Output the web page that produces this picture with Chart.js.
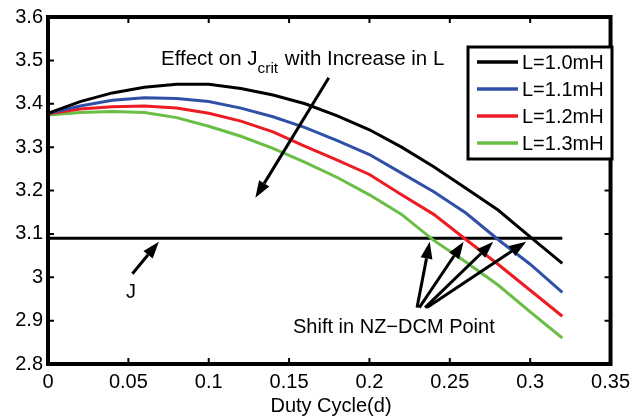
<!DOCTYPE html>
<html>
<head>
<meta charset="utf-8">
<script src="https://cdn.jsdelivr.net/npm/chart.js@4.4.1/dist/chart.umd.min.js"></script>
<style>
  html, body { margin: 0; padding: 0; background: #fff; }
</style>
</head>
<body>
<canvas id="myChart" width="636" height="417"></canvas>
<script>
// duty cycle samples
const duty = [0, 0.02, 0.04, 0.06, 0.08, 0.10, 0.12, 0.14, 0.16, 0.18, 0.20, 0.22, 0.24, 0.26, 0.28, 0.30, 0.32];

// J_crit for each inductance
const jL10 = [3.378, 3.405, 3.425, 3.438, 3.445, 3.445, 3.435, 3.420, 3.400, 3.372, 3.340, 3.300, 3.255, 3.205, 3.155, 3.093, 3.032];
const jL11 = [3.378, 3.395, 3.408, 3.414, 3.412, 3.405, 3.390, 3.370, 3.345, 3.315, 3.283, 3.240, 3.197, 3.148, 3.087, 3.030, 2.965];
const jL12 = [3.377, 3.388, 3.393, 3.395, 3.390, 3.378, 3.360, 3.335, 3.302, 3.270, 3.237, 3.190, 3.145, 3.087, 3.030, 2.970, 2.910];
const jL13 = [3.374, 3.380, 3.382, 3.380, 3.368, 3.348, 3.325, 3.297, 3.265, 3.230, 3.190, 3.145, 3.085, 3.035, 2.982, 2.920, 2.860];

// reference current J
const jRefX = [0, 0.32];
const jRefY = [3.09, 3.09];

const seriesNames = ['L=1.0mH', 'L=1.1mH', 'L=1.2mH', 'L=1.3mH'];
const xTicks = [0, 0.05, 0.1, 0.15, 0.2, 0.25, 0.3, 0.35];
const yTicks = [2.8, 2.9, 3.0, 3.1, 3.2, 3.3, 3.4, 3.5, 3.6];

// annotation arrows, [x1, y1, x2, y2] in data units (tail -> head)
const arrows = [
    [0.1747, 3.460, 0.129, 3.183],
    [0.0525, 3.008, 0.069, 3.082],
    [0.2296, 2.930, 0.2375, 3.082],
    [0.2310, 2.930, 0.2586, 3.082],
    [0.2346, 2.930, 0.2770, 3.082],
    [0.2358, 2.930, 0.2975, 3.082]
];

const colors = ['#000000', '#2f50a6', '#ed1c24', '#6abd45'];
const FONT = '"Liberation Sans", Arial, sans-serif';

function pts(ys) {
    return duty.map((d, i) => ({ x: d, y: ys[i] }));
}

function drawArrow(ctx, x1, y1, x2, y2) {
    const ang = Math.atan2(y2 - y1, x2 - x1);
    const len = 17, half = 6;
    const bx = x2 - len * Math.cos(ang), by = y2 - len * Math.sin(ang);
    ctx.beginPath();
    ctx.moveTo(x1, y1);
    ctx.lineTo(bx, by);
    ctx.stroke();
    ctx.beginPath();
    ctx.moveTo(x2, y2);
    ctx.lineTo(bx + half * Math.sin(ang), by - half * Math.cos(ang));
    ctx.lineTo(bx - half * Math.sin(ang), by + half * Math.cos(ang));
    ctx.closePath();
    ctx.fill();
}

const decorations = {
    id: 'decorations',
    afterDraw(chart) {
        const ctx = chart.ctx;
        const a = chart.chartArea;
        const xs = chart.scales.x, ys = chart.scales.y;
        ctx.save();
        ctx.strokeStyle = '#000';
        ctx.fillStyle = '#000';

        // inner ticks
        ctx.lineWidth = 2;
        xTicks.forEach(v => {
            const px = xs.getPixelForValue(v);
            ctx.beginPath();
            ctx.moveTo(px, a.bottom); ctx.lineTo(px, a.bottom - 6);
            ctx.moveTo(px, a.top); ctx.lineTo(px, a.top + 6);
            ctx.stroke();
        });
        yTicks.forEach(v => {
            const py = ys.getPixelForValue(v);
            ctx.beginPath();
            ctx.moveTo(a.left, py); ctx.lineTo(a.left + 6, py);
            ctx.moveTo(a.right, py); ctx.lineTo(a.right - 6, py);
            ctx.stroke();
        });

        // frame
        ctx.lineWidth = 4;
        ctx.strokeRect(a.left, a.top, a.right - a.left, a.bottom - a.top);

        // arrows
        ctx.lineWidth = 3;
        arrows.forEach(r => {
            drawArrow(ctx, xs.getPixelForValue(r[0]), ys.getPixelForValue(r[1]),
                xs.getPixelForValue(r[2]), ys.getPixelForValue(r[3]));
        });

        // texts
        ctx.textBaseline = 'alphabetic';
        ctx.textAlign = 'left';
        ctx.font = '20.5px ' + FONT;
        let tx = 161;
        ctx.fillText('Effect on J', tx, 65);
        tx += ctx.measureText('Effect on J').width;
        ctx.font = '15.5px ' + FONT;
        ctx.fillText('crit', tx, 73);
        tx += ctx.measureText('crit').width + 1;
        ctx.font = '20.5px ' + FONT;
        ctx.fillText(' with Increase in L', tx, 65);

        ctx.font = '20px ' + FONT;
        ctx.fillText('J', 126, 298);
        ctx.fillText('Shift in NZ\u2212DCM Point', 293, 333);

        ctx.textAlign = 'center';
        ctx.fillText('Duty Cycle(d)', 331, 412);

        // legend
        ctx.fillStyle = '#fff';
        ctx.fillRect(468, 47, 144, 112);
        ctx.lineWidth = 3;
        ctx.strokeStyle = '#000';
        ctx.strokeRect(468, 47, 144, 112);
        ctx.textAlign = 'left';
        ctx.textBaseline = 'middle';
        ctx.fillStyle = '#000';
        seriesNames.forEach((name, i) => {
            const y = 62 + i * 27;
            ctx.strokeStyle = colors[i];
            ctx.lineWidth = 3.5;
            ctx.beginPath();
            ctx.moveTo(477, y); ctx.lineTo(518, y);
            ctx.stroke();
            ctx.fillText(name, 522, y + 1);
        });
        ctx.restore();
    }
};

const datasets = [jL10, jL11, jL12, jL13].map((s, i) => ({
    label: seriesNames[i],
    data: pts(s),
    borderColor: colors[i],
    borderWidth: 3,
    pointRadius: 0,
    tension: 0,
    fill: false
}));
datasets.push({
    label: 'J',
    data: jRefX.map((x, i) => ({ x: x, y: jRefY[i] })),
    borderColor: '#000',
    borderWidth: 3,
    pointRadius: 0,
    fill: false
});

const ctx = document.getElementById('myChart').getContext('2d');
const myChart = new Chart(ctx, {
    type: 'line',
    data: { datasets: datasets },
    options: {
        responsive: false,
        animation: false,
        layout: { padding: { top: 15, right: 22, left: 0, bottom: 0 } },
        plugins: { legend: { display: false }, tooltip: { enabled: false } },
        scales: {
            x: {
                type: 'linear', min: 0, max: 0.35,
                afterBuildTicks: s => { s.ticks = xTicks.map(v => ({ value: v })); },
                afterFit: s => { s.height = 53; },
                grid: { display: false, drawTicks: false },
                border: { display: false },
                ticks: {
                    padding: 6, color: '#000', maxRotation: 0, autoSkip: false,
                    font: { family: FONT, size: 20 },
                    callback: v => String(+v.toFixed(2))
                }
            },
            y: {
                type: 'linear', min: 2.8, max: 3.6,
                afterBuildTicks: s => { s.ticks = yTicks.map(v => ({ value: v })); },
                afterFit: s => { s.width = 48; },
                grid: { display: false, drawTicks: false },
                border: { display: false },
                ticks: {
                    padding: 5, color: '#000', autoSkip: false,
                    font: { family: FONT, size: 20 },
                    callback: v => String(+v.toFixed(2))
                }
            }
        }
    },
    plugins: [decorations]
});
</script>
</body>
</html>
